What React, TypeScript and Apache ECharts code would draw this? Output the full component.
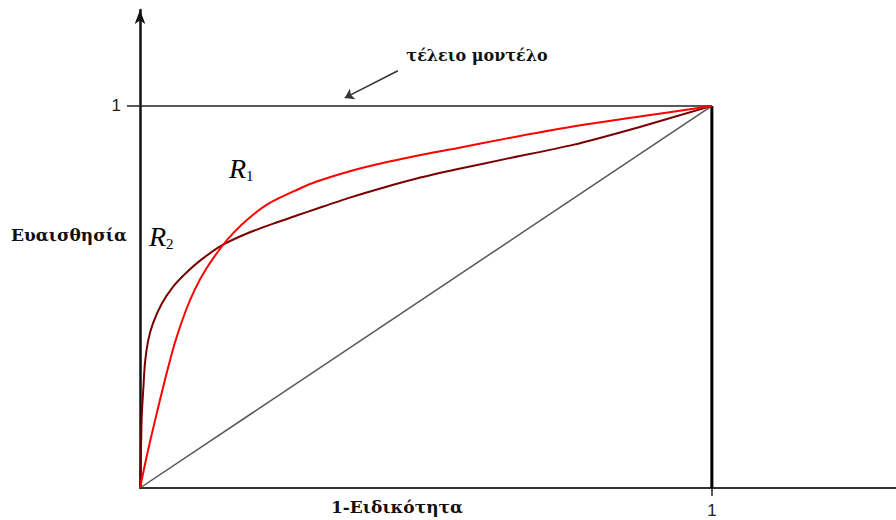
import React, { useEffect, useRef } from "react";
import * as echarts from "echarts";

// ROC curves of two classifiers (x: 1 - specificity, y: sensitivity)
const r1Points: [number, number][] = [
  [0, 0], [0.012, 0.085], [0.026, 0.175], [0.044, 0.285], [0.061, 0.38], [0.079, 0.46],
  [0.096, 0.52], [0.115, 0.572], [0.143, 0.632], [0.163, 0.667], [0.192, 0.708],
  [0.227, 0.746], [0.274, 0.78], [0.309, 0.802], [0.367, 0.829], [0.432, 0.853],
  [0.502, 0.875], [0.554, 0.889], [0.642, 0.915], [0.757, 0.946], [0.874, 0.972], [1, 1],
];
const r2Points: [number, number][] = [
  [0, 0], [0.002, 0.12], [0.003, 0.187], [0.006, 0.265], [0.0087, 0.327], [0.0145, 0.387],
  [0.023, 0.432], [0.038, 0.482], [0.058, 0.527], [0.08, 0.562],
  [0.105, 0.595], [0.143, 0.635], [0.187, 0.666], [0.233, 0.692], [0.274, 0.713],
  [0.309, 0.731], [0.367, 0.76], [0.425, 0.786], [0.484, 0.81], [0.554, 0.834],
  [0.642, 0.862], [0.757, 0.898], [0.874, 0.945], [1, 1],
];
const chancePoints: [number, number][] = [[0, 0], [1, 1]];
const perfectTop: [number, number][] = [[0, 1], [1, 1]];
const perfectRight: [number, number][] = [[1, 0], [1, 1]];
const arrowFrom: [number, number] = [0.451, 1.092];
const arrowTo: [number, number] = [0.358, 1.021];
const tickValues = [1];

const xLabel = "1-Ειδικότητα";
const yLabel = "Ευαισθησία";
const perfectLabel = "τέλειο μοντέλο";

const GREEK_SERIF = "'DejaVu Serif', serif";
const SERIF = "'Liberation Serif', 'DejaVu Serif', serif";
const SANS = "'Liberation Sans', Arial, sans-serif";

const boldText = (text: string, x: number, y: number, size: number) => ({
  type: "text",
  x,
  y,
  style: {
    text,
    fontFamily: GREEK_SERIF,
    fontWeight: "bold",
    fontSize: size,
    fill: "#111",
    align: "center",
    verticalAlign: "middle",
  },
});

const curveLabel = (sub: string, x: number, y: number) => ({
  type: "text",
  x,
  y,
  style: {
    text: `{r|R}{s|${sub}}`,
    rich: {
      r: { fontFamily: SERIF, fontStyle: "italic", fontSize: 28, fill: "#000" },
      s: { fontFamily: SERIF, fontSize: 15, fill: "#000", verticalAlign: "bottom", padding: [14, 0, 0, 0] },
    },
  },
});

export default function App() {
  const ref = useRef<HTMLDivElement>(null);
  useEffect(() => {
    if (!ref.current) return;
    const chart = echarts.init(ref.current, null, { renderer: "svg" });
    const lineSeries = (data: [number, number][], color: string, width: number, z = 2) => ({
      type: "line",
      data,
      showSymbol: false,
      symbol: "none",
      lineStyle: { color, width },
      z,
    });
    chart.setOption({
      animation: false,
      backgroundColor: "#fff",
      grid: { left: 140, right: 0, top: 10, bottom: 32 },
      xAxis: {
        type: "value",
        min: 0,
        max: 1.322,
        interval: 1,
        axisLine: { lineStyle: { color: "#333", width: 2 } },
        axisTick: { show: true, customValues: tickValues, length: 8, lineStyle: { color: "#222", width: 1.5 } },
        axisLabel: {
          customValues: tickValues,
          formatter: (v: number) => String(v),
          margin: 14,
          fontFamily: SANS,
          fontSize: 17,
          color: "#222",
        },
        splitLine: { show: false },
      },
      yAxis: {
        type: "value",
        min: 0,
        max: 1.251,
        interval: 1,
        axisLine: {
          show: true,
          symbol: ["none", "arrow"],
          symbolSize: [8, 14],
          lineStyle: { color: "#111", width: 2.5 },
        },
        axisTick: { show: true, customValues: tickValues, length: 13, lineStyle: { color: "#222", width: 1.5 } },
        axisLabel: {
          customValues: tickValues,
          formatter: (v: number) => String(v),
          margin: 19,
          fontFamily: SANS,
          fontSize: 17,
          color: "#222",
        },
        splitLine: { show: false },
      },
      series: [
        lineSeries(perfectTop, "#222", 1.5, 1),
        lineSeries(perfectRight, "#000", 3, 1),
        {
          ...lineSeries(chancePoints, "#555", 1.5, 1),
          markLine: {
            silent: true,
            symbol: ["none", "arrow"],
            symbolSize: 9,
            label: { show: false },
            lineStyle: { color: "#333", width: 1.5, type: "solid" },
            data: [[{ coord: arrowFrom }, { coord: arrowTo }]],
          },
        },
        { ...lineSeries(r2Points, "#7a0000", 2, 3), smooth: 0.25 },
        { ...lineSeries(r1Points, "#ff0000", 2, 4), smooth: 0.25 },
      ],
      graphic: [
        boldText(perfectLabel, 477, 55, 16),
        boldText(yLabel, 69, 235, 17),
        boldText(xLabel, 397, 507, 17),
        curveLabel("1", 229, 154),
        curveLabel("2", 149, 222),
      ],
    });
    return () => chart.dispose();
  }, []);
  return (
    <div
      ref={ref}
      style={{ position: "fixed", left: 0, top: 0, width: 896, height: 520, background: "#fff" }}
    />
  );
}
